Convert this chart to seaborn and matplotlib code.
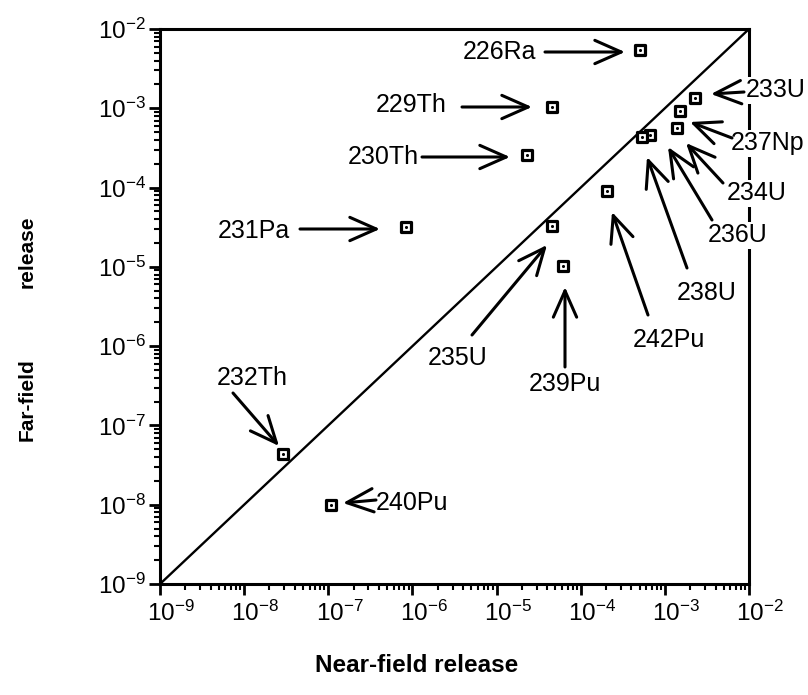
import numpy as np
import pandas as pd
import matplotlib
matplotlib.use("Agg")
import matplotlib.pyplot as plt
import matplotlib.ticker as mticker
import matplotlib.transforms as mtransforms
import seaborn as sns

# ---------------- data ----------------
nuclides = ["226Ra", "229Th", "230Th", "231Pa", "232Th", "233U", "234U",
            "235U", "236U", "237Np", "238U", "239Pu", "240Pu", "242Pu"]
near_field = [5.0e-4, 4.5e-5, 2.3e-5, 8.4e-7, 2.9e-8, 2.3e-3, 1.4e-3,
              4.5e-5, 6.7e-4, 1.5e-3, 5.4e-4, 6.1e-5, 1.08e-7, 2.05e-4]
far_field = [5.4e-3, 1.04e-3, 2.6e-4, 3.2e-5, 4.4e-8, 1.36e-3, 5.6e-4,
             3.3e-5, 4.6e-4, 9.3e-4, 4.3e-4, 1.02e-5, 1.0e-8, 9.1e-5]
axis_limits = [1e-9, 1e-2]
tick_exponents = [-9, -8, -7, -6, -5, -4, -3, -2]

df = pd.DataFrame({"nuclide": nuclides, "near": near_field, "far": far_field})
diag = pd.DataFrame({"x": axis_limits, "y": axis_limits})

# ---------------- style ----------------
sns.set_theme(style="ticks")
plt.rcParams["font.family"] = ["Liberation Sans", "DejaVu Sans"]
plt.rcParams["mathtext.fontset"] = "custom"
plt.rcParams["mathtext.rm"] = "Liberation Sans"
plt.rcParams["mathtext.it"] = "Liberation Sans:italic"
plt.rcParams["mathtext.bf"] = "Liberation Sans:bold"

W, H = 808, 695
fig = plt.figure(figsize=(W / 100, H / 100), dpi=100)
L, R, T, B = 160, 749, 29, 584
ax = fig.add_axes([L / W, (H - B) / H, (R - L) / W, (B - T) / H])

def fx(px):
    return (px - L) / (R - L)

def fy(py):
    return (B - py) / (B - T)

# diagonal
sns.lineplot(data=diag, x="x", y="y", ax=ax, color="black", lw=1.7,
             legend=False, zorder=2)
# markers: open squares with a center dot
sns.scatterplot(data=df, x="near", y="far", ax=ax, marker="s", s=62,
                facecolor="white", edgecolor="black", linewidth=2.3,
                legend=False, zorder=4)
sns.scatterplot(data=df, x="near", y="far", ax=ax, marker="o", s=5,
                color="black", linewidth=0, legend=False, zorder=5)

ax.set_xscale("log")
ax.set_yscale("log")
ax.set_xlim(axis_limits)
ax.set_ylim(axis_limits)

ticks = [10.0 ** e for e in tick_exponents]
labels = [r"$10^{%d}$" % e for e in tick_exponents]
ax.set_xticks(ticks)
ax.set_xticklabels(labels)
ax.set_yticks(ticks)
ax.set_yticklabels(labels)
ax.xaxis.set_minor_locator(mticker.LogLocator(base=10, subs=np.arange(2, 10)))
ax.yaxis.set_minor_locator(mticker.LogLocator(base=10, subs=np.arange(2, 10)))
ax.xaxis.set_minor_formatter(mticker.NullFormatter())
ax.yaxis.set_minor_formatter(mticker.NullFormatter())
ax.tick_params(which="major", direction="out", length=8, width=2,
               labelsize=17.5, color="black", labelcolor="black")
ax.tick_params(axis="x", which="major", pad=4)
ax.tick_params(axis="y", which="major", pad=2)
ax.tick_params(which="minor", direction="out", length=4.5, width=1.5,
               color="black")
ax.tick_params(top=False, right=False, which="both")
for lab in ax.get_xticklabels():
    lab.set_transform(lab.get_transform() +
                      mtransforms.ScaledTranslation(8 / 72, 0, fig.dpi_scale_trans))

for sp in ax.spines.values():
    sp.set_visible(True)
    sp.set_color("black")
    sp.set_linewidth(2.2)
ax.set_xlabel("")
ax.set_ylabel("")
ax.grid(False)

# ---------------- annotations ----------------
# label: (text x px, text y px, ha, tail px, tip px)
layout = {
    "226Ra": (499, 52, "center", (545, 52), (625, 52)),
    "229Th": (411, 105, "center", (462, 107), (532, 107)),
    "230Th": (383, 157, "center", (422, 157), (510, 157)),
    "231Pa": (254, 231, "center", (300, 229), (380, 229)),
    "232Th": (252, 378, "center", (233, 393), (279, 446)),
    "233U": (746, 90, "left", (744, 92), (711, 94)),
    "237Np": (731, 143, "left", (732, 138), (690, 122)),
    "234U": (727, 193, "left", (723, 183), (686, 143)),
    "236U": (708, 235, "left", (712, 220), (668, 147)),
    "238U": (677, 293, "left", (687, 268), (647, 157)),
    "242Pu": (633, 340, "left", (648, 315), (612, 212)),
    "235U": (458, 358, "center", (472, 335), (547, 245)),
    "239Pu": (565, 384, "center", (565, 367), (565, 287)),
    "240Pu": (376, 503, "left", (376, 500), (343, 503)),
}
right_side = {"233U", "237Np", "234U", "236U"}
for name in nuclides:
    tx, ty, ha, tail, tip = layout[name]
    kw = {}
    if name in right_side:
        kw["bbox"] = dict(fc="white", ec="none", pad=1.0)
    ax.text(fx(tx), fy(ty), name, transform=ax.transAxes, ha=ha,
            va="center", fontsize=18, color="black", clip_on=False,
            zorder=6, **kw)
    ax.annotate("", xy=(fx(tip[0]), fy(tip[1])), xycoords="axes fraction",
                xytext=(fx(tail[0]), fy(tail[1])), textcoords="axes fraction",
                arrowprops=dict(arrowstyle="->,head_length=0.95,head_width=0.42",
                                mutation_scale=20, lw=2.2, color="black",
                                shrinkA=0, shrinkB=0),
                annotation_clip=False, zorder=6)

# axis titles
fig.text(417 / W, 1 - 666 / H, "Near-field release", ha="center", va="center",
         fontsize=17.5, fontweight="bold", color="black")
fig.text(27 / W, 1 - 400 / H, "Far-field", ha="center", va="center",
         rotation=90, fontsize=15, fontweight="bold", color="black")
fig.text(27 / W, 1 - 252 / H, "release", ha="center", va="center",
         rotation=90, fontsize=15, fontweight="bold", color="black")

fig.savefig("out.png", dpi=100, facecolor="white")
